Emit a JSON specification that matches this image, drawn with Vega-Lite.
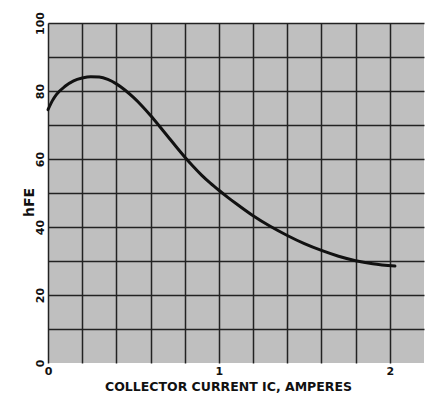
{
  "$schema": "https://vega.github.io/schema/vega-lite/v6.json",
  "width": 376,
  "height": 340,
  "autosize": {"type": "none"},
  "padding": {"left": 48, "top": 23, "right": 5, "bottom": 40},
  "background": "#ffffff",
  "config": {
    "view": {"fill": "#bfbfbf", "stroke": null},
    "font": "DejaVu Sans"
  },
  "data": {
    "values": [
      {"ic": 0.0, "hfe": 74.5},
      {"ic": 0.025, "hfe": 77.1},
      {"ic": 0.05, "hfe": 79.0},
      {"ic": 0.1, "hfe": 81.4},
      {"ic": 0.15, "hfe": 83.0},
      {"ic": 0.2, "hfe": 83.8},
      {"ic": 0.25, "hfe": 84.2},
      {"ic": 0.3, "hfe": 84.1},
      {"ic": 0.35, "hfe": 83.4},
      {"ic": 0.4, "hfe": 82.1},
      {"ic": 0.45, "hfe": 80.3},
      {"ic": 0.5, "hfe": 78.1},
      {"ic": 0.55, "hfe": 75.6},
      {"ic": 0.6, "hfe": 72.8},
      {"ic": 0.65, "hfe": 69.8},
      {"ic": 0.7, "hfe": 66.7},
      {"ic": 0.75, "hfe": 63.6},
      {"ic": 0.8, "hfe": 60.6},
      {"ic": 0.85, "hfe": 57.8},
      {"ic": 0.9, "hfe": 55.2},
      {"ic": 0.95, "hfe": 52.9},
      {"ic": 1.0, "hfe": 50.8},
      {"ic": 1.05, "hfe": 48.8},
      {"ic": 1.1, "hfe": 46.9},
      {"ic": 1.2, "hfe": 43.3},
      {"ic": 1.3, "hfe": 40.2},
      {"ic": 1.4, "hfe": 37.5},
      {"ic": 1.5, "hfe": 35.1},
      {"ic": 1.6, "hfe": 33.1},
      {"ic": 1.7, "hfe": 31.4},
      {"ic": 1.8, "hfe": 30.1},
      {"ic": 1.9, "hfe": 29.2},
      {"ic": 2.03, "hfe": 28.5}
    ]
  },
  "mark": {"type": "line", "color": "#111111", "strokeWidth": 3, "interpolate": "monotone", "strokeCap": "round"},
  "encoding": {
    "x": {
      "field": "ic",
      "type": "quantitative",
      "scale": {"domain": [0, 2.2], "nice": false, "zero": false},
      "axis": {
        "values": [0, 0.2, 0.4, 0.6, 0.8, 1, 1.2, 1.4, 1.6, 1.8, 2],
        "labelExpr": "datum.value === 0 ? '0' : (datum.value === 1 ? '1' : (datum.value === 2 ? '2' : ''))",
        "grid": true,
        "gridColor": "#222222",
        "gridWidth": 1.5,
        "domain": false,
        "ticks": false,
        "labelPadding": 2,
        "labelFont": "DejaVu Sans",
        "labelFontSize": 11,
        "labelFontWeight": "bold",
        "labelColor": "#111111",
        "labelFlush": false,
        "labelOverlap": false,
        "minExtent": 15,
        "maxExtent": 15,
        "title": "COLLECTOR CURRENT IC, AMPERES",
        "titleFont": "DejaVu Sans",
        "titleFontSize": 12.5,
        "titleFontWeight": "bold",
        "titleColor": "#111111",
        "titlePadding": 2,
        "titleX": 180
      }
    },
    "y": {
      "field": "hfe",
      "type": "quantitative",
      "scale": {"domain": [0, 100], "nice": false},
      "axis": {
        "values": [0, 10, 20, 30, 40, 50, 60, 70, 80, 90, 100],
        "labelExpr": "datum.value % 20 === 0 ? datum.label : ''",
        "grid": true,
        "gridColor": "#222222",
        "gridWidth": 1.5,
        "gridOpacity": {"condition": {"test": "datum.value === 0", "value": 0}, "value": 1},
        "domain": false,
        "ticks": false,
        "labelAngle": 270,
        "labelAlign": "center",
        "labelBaseline": "alphabetic",
        "labelPadding": 5,
        "labelFont": "DejaVu Sans",
        "labelFontSize": 11,
        "labelFontWeight": "bold",
        "labelColor": "#111111",
        "labelFlush": false,
        "labelOverlap": false,
        "minExtent": 15,
        "maxExtent": 15,
        "title": "hFE",
        "titleFont": "DejaVu Sans",
        "titleFontSize": 14,
        "titleFontWeight": "bold",
        "titleColor": "#111111",
        "titleAngle": 270,
        "titleBaseline": "alphabetic",
        "titlePadding": 0,
        "titleX": -15,
        "titleY": 179
      }
    }
  }
}
